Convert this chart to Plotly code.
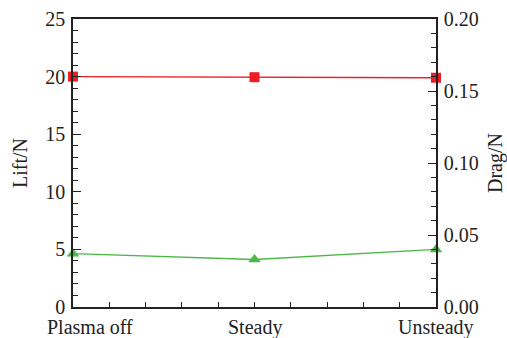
import plotly.graph_objects as go

categories = ["Plasma off", "Steady", "Unsteady"]
lift = [20.0, 19.95, 19.9]
drag = [0.037, 0.033, 0.040]

xpos = list(range(len(categories)))
font = dict(family="Liberation Serif", size=20, color="#222")

fig = go.Figure()
fig.add_trace(go.Scatter(x=xpos, y=lift, mode="lines+markers", yaxis="y",
                         line=dict(color="#ee1c25", width=1.3),
                         marker=dict(symbol="square", size=10, color="#ee1c25"),
                         cliponaxis=False, showlegend=False))
fig.add_trace(go.Scatter(x=xpos, y=drag, mode="lines+markers", yaxis="y2",
                         line=dict(color="#4cb848", width=1.3),
                         marker=dict(symbol="triangle-up", size=11, color="#4cb848"),
                         cliponaxis=False, showlegend=False))

axcommon = dict(showline=True, linecolor="#222", linewidth=1.5, showgrid=False,
                zeroline=False, ticks="inside", tickcolor="#222", tickwidth=1.2,
                tickfont=font, automargin=False)

# category labels as annotations (first label sits right of its tick, as in the reference)
for i, cat in enumerate(categories):
    if i == 0:
        fig.add_annotation(x=xpos[i], y=0, xref="x", yref="paper", text=cat,
                           showarrow=False, xanchor="left", yanchor="top",
                           xshift=-27, yshift=-8, font=font, borderpad=0)
    else:
        fig.add_annotation(x=xpos[i], y=0, xref="x", yref="paper", text=cat,
                           showarrow=False, xanchor="center", yanchor="top",
                           yshift=-8, font=font, borderpad=0)

fig.update_layout(
    width=507, height=338,
    margin=dict(l=73, r=71, t=19, b=31),
    paper_bgcolor="white", plot_bgcolor="white",
    font=font,
    xaxis=dict(axcommon, range=[0, 2], tickvals=xpos, ticktext=[""] * len(xpos),
               ticklen=5, mirror=True,
               minor=dict(dtick=0.2, tick0=0, ticks="inside", ticklen=5,
                          tickcolor="#222", tickwidth=1.2)),
    yaxis=dict(axcommon, range=[0, 25], dtick=5, ticklen=8, ticklabelstandoff=2,
               minor=dict(dtick=1, ticks="inside", ticklen=5, tickcolor="#222", tickwidth=1.2),
               title=dict(text="Lift/N", font=font, standoff=12)),
    yaxis2=dict(axcommon, range=[0, 0.2], dtick=0.05, tickformat=".2f", ticklen=8,
                overlaying="y", side="right", ticklabelstandoff=2,
                minor=dict(dtick=0.01, ticks="inside", ticklen=5, tickcolor="#222", tickwidth=1.2),
                title=dict(text="Drag/N", font=font, standoff=12)),
)

fig.write_html("out.html")
